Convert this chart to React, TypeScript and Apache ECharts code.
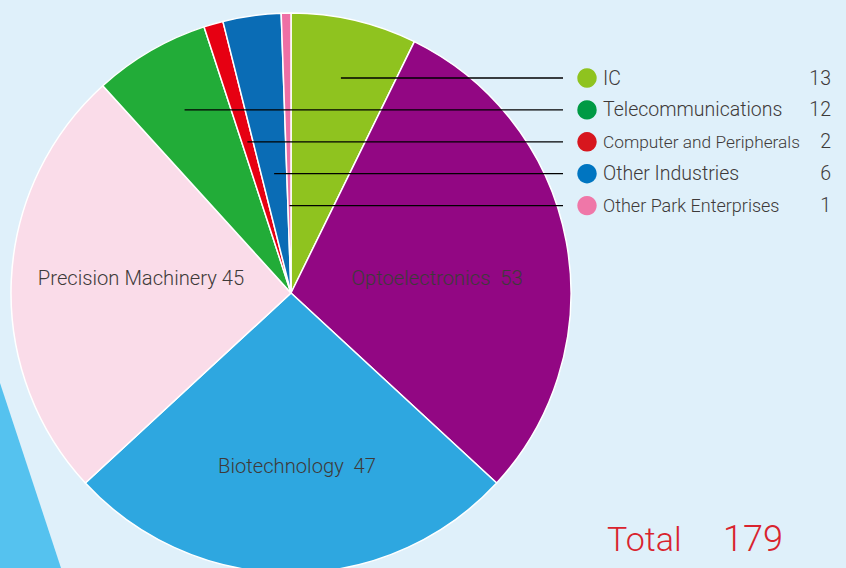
import React, { useEffect, useRef } from "react";
import * as echarts from "echarts";

// ---- data ----
const categories = [
  "IC",
  "Optoelectronics",
  "Biotechnology",
  "Precision Machinery",
  "Telecommunications",
  "Computer and Peripherals",
  "Other Industries",
  "Other Park Enterprises",
];
const companyCounts = [13, 53, 47, 45, 12, 2, 6, 1];
const legendCategories = [
  "IC",
  "Telecommunications",
  "Computer and Peripherals",
  "Other Industries",
  "Other Park Enterprises",
];
const totalLabel = "Total";
const totalValue = 179;

// ---- styles ----
const sliceColors: Record<string, string> = {
  IC: "#8fc31f",
  Optoelectronics: "#920783",
  Biotechnology: "#2ea7e0",
  "Precision Machinery": "#fadce9",
  Telecommunications: "#22ac38",
  "Computer and Peripherals": "#e60012",
  "Other Industries": "#0a6cb5",
  "Other Park Enterprises": "#ee6fa5",
};
const legendColors: Record<string, string> = {
  IC: "#8fc31f",
  Telecommunications: "#009a44",
  "Computer and Peripherals": "#d7161e",
  "Other Industries": "#0075c1",
  "Other Park Enterprises": "#ef77a8",
};
const legendFontSize: Record<string, number> = {
  "Computer and Peripherals": 17.3,
  "Other Park Enterprises": 18,
};
const insideLabelPos: Record<string, [number, number]> = {
  Optoelectronics: [437, 278],
  Biotechnology: [297, 466],
  "Precision Machinery": [141, 278],
};
const labelGap: Record<string, string> = {
  Optoelectronics: "  ",
  Biotechnology: "  ",
  "Precision Machinery": " ",
};

const W = 846;
const H = 568;
const CX = 291;
const CY = 293;
const R = 280;
const FONT = "Roboto, 'Liberation Sans', Arial, sans-serif";
const WEIGHT = 300;
const TEXT_COLOR = "#3e3a39";

export default function App() {
  const ref = useRef<HTMLDivElement>(null);

  useEffect(() => {
    if (!ref.current) return;
    const chart = echarts.init(ref.current, null, { renderer: "svg" });

    const total = companyCounts.reduce((a, b) => a + b, 0);
    const midAngles: number[] = [];
    let acc = 0;
    companyCounts.forEach((v) => {
      midAngles.push(((acc + v / 2) / total) * 360);
      acc += v;
    });

    const rowY0 = 78;
    const rowStep = 31.9;
    const graphics: any[] = [];

    graphics.push({
      type: "polygon",
      z: 0,
      shape: { points: [[0, 383], [0, H], [61, H]] },
      style: { fill: "#55c2ef" },
    });

    legendCategories.forEach((name, i) => {
      const y = rowY0 + i * rowStep;
      const idx = categories.indexOf(name);
      const a = (midAngles[idx] * Math.PI) / 180;
      const xStart = CX + (CY - y) * Math.tan(a);
      graphics.push({
        type: "line",
        z: 10,
        shape: { x1: xStart, y1: y, x2: 563, y2: y },
        style: { stroke: "#000", lineWidth: 1.3 },
      });
      graphics.push({
        type: "circle",
        z: 10,
        shape: { cx: 587, cy: y, r: 9.7 },
        style: { fill: legendColors[name] },
      });
      graphics.push({
        type: "text",
        z: 10,
        x: 603,
        y: y,
        style: {
          text: name,
          fill: TEXT_COLOR,
          font: `${WEIGHT} ${legendFontSize[name] || 19.5}px ${FONT}`,
          align: "left",
          verticalAlign: "middle",
        },
      });
      graphics.push({
        type: "text",
        z: 10,
        x: 831,
        y: y,
        style: {
          text: String(companyCounts[idx]),
          fill: TEXT_COLOR,
          font: `${WEIGHT} 19.5px ${FONT}`,
          align: "right",
          verticalAlign: "middle",
        },
      });
    });

    graphics.push({
      type: "text",
      z: 10,
      x: 607,
      y: 539,
      style: {
        text: totalLabel,
        fill: "#d9232e",
        font: `${WEIGHT} 34px ${FONT}`,
        align: "left",
        verticalAlign: "middle",
      },
    });
    graphics.push({
      type: "text",
      z: 10,
      x: 783,
      y: 539,
      style: {
        text: String(totalValue),
        fill: "#d9232e",
        font: `${WEIGHT} 36px ${FONT}`,
        align: "right",
        verticalAlign: "middle",
      },
    });

    chart.setOption({
      animation: false,
      backgroundColor: "#dff0fa",
      graphic: graphics,
      series: [
        {
          type: "pie",
          center: [CX, CY],
          radius: R,
          startAngle: 90,
          clockwise: true,
          avoidLabelOverlap: false,
          emphasis: { disabled: true },
          itemStyle: { borderColor: "#ffffff", borderWidth: 1.5 },
          labelLine: { show: false },
          data: categories.map((name, i) => ({
            name,
            value: companyCounts[i],
            itemStyle: { color: sliceColors[name] },
            label: {
              show: !!insideLabelPos[name],
              position: "inside",
              formatter: `${name}${labelGap[name] || " "}${companyCounts[i]}`,
              color: TEXT_COLOR,
              fontSize: 20.2,
              fontWeight: WEIGHT,
              fontFamily: FONT,
            },
          })),
          labelLayout: (params: any) => {
            const p = insideLabelPos[categories[params.dataIndex]];
            return p ? { x: p[0], y: p[1], align: "center", verticalAlign: "middle" } : {};
          },
        },
      ],
    });

    return () => chart.dispose();
  }, []);

  return (
    <div
      ref={ref}
      style={{ position: "fixed", left: 0, top: 0, width: W, height: H }}
    />
  );
}
